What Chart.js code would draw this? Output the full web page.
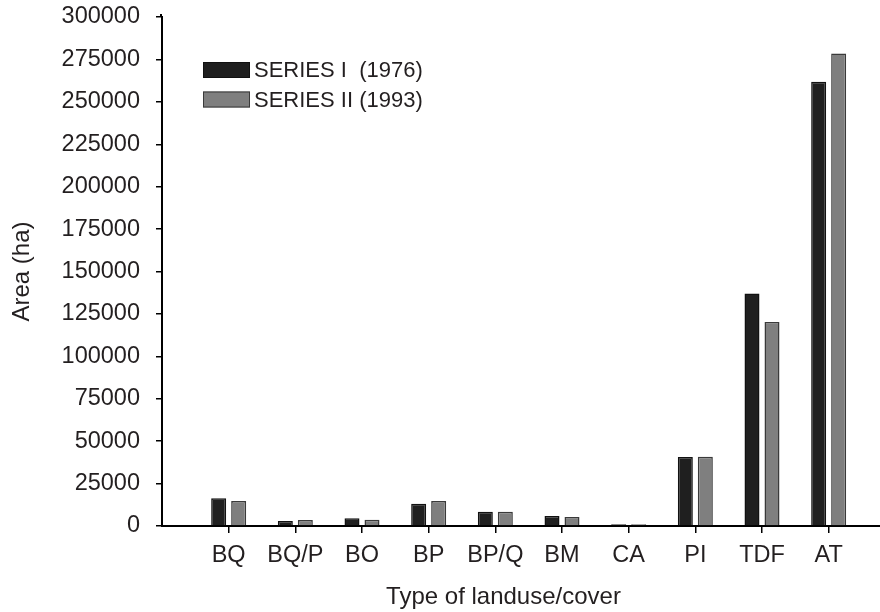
<!DOCTYPE html>
<html>
<head>
<meta charset="utf-8">
<script src="https://cdn.jsdelivr.net/npm/chart.js@4"></script>
<style>
html,body{margin:0;padding:0;background:#fff;overflow:hidden;width:880px;height:612px;}
#wrap{width:880px;height:612px;overflow:hidden;position:relative;}
canvas{display:block;}
</style>
</head>
<body>
<div id="wrap"><canvas id="c" width="900" height="612"></canvas></div>
<script>
const categories = ['BQ','BQ/P','BO','BP','BP/Q','BM','CA','PI','TDF','AT'];
const series1Label = 'SERIES I  (1976)';
const series2Label = 'SERIES II (1993)';
const series1 = [16300, 3000, 4500, 13100, 8400, 5900, 1000, 40600, 137000, 261800];
const series2 = [14700, 3500, 3700, 14700, 8400, 5300, 1000, 40800, 120300, 278500];
const yTicks = [0,25000,50000,75000,100000,125000,150000,175000,200000,225000,250000,275000,300000];
const xTitle = 'Type of landuse/cover';
const yTitle = 'Area (ha)';

const FONT = "'Liberation Sans', Arial, sans-serif";
const TXT = '#231f20';

// padded labels so the axis starts one category-step before the first category
const labels = [''].concat(categories, ['']);
const d1 = [null].concat(series1, [null]);
const d2 = [null].concat(series2, [null]);

const extrasPlugin = {
  id: 'extras',
  afterDraw(chart) {
    const ctx = chart.ctx;
    const x0 = 203, bw = 47, bh = 16;
    const rows = [70, 99.5];
    ctx.save();
    chart.data.datasets.forEach((ds, i) => {
      const cy = rows[i];
      ctx.fillStyle = ds.backgroundColor;
      ctx.fillRect(x0, cy - bh/2, bw, bh);
      ctx.lineWidth = 1;
      ctx.strokeStyle = ds.borderColor;
      ctx.strokeRect(x0 + 0.5, cy - bh/2 + 0.5, bw - 1, bh - 1);
      ctx.fillStyle = TXT;
      ctx.font = "22px " + FONT;
      ctx.textBaseline = 'middle';
      ctx.textAlign = 'left';
      ctx.fillText(ds.label, x0 + bw + 4, cy + 1);
    });
    // x axis title
    ctx.font = "24px " + FONT;
    ctx.textAlign = 'center';
    ctx.textBaseline = 'middle';
    ctx.fillText(xTitle, 503.5, 597);
    // slight extension of the y axis line above the top tick
    const ca = chart.chartArea;
    ctx.strokeStyle = '#000';
    ctx.lineWidth = 2;
    ctx.beginPath();
    ctx.moveTo(ca.left - 1, ca.top);
    ctx.lineTo(ca.left - 1, ca.top - 3);
    ctx.stroke();
    ctx.restore();
  }
};

new Chart(document.getElementById('c'), {
  type: 'bar',
  data: {
    labels: labels,
    datasets: [
      {label: series1Label, data: d1, backgroundColor: '#1f1f1f', borderColor: '#111111', borderWidth: 1.5,
       categoryPercentage: 0.6, barPercentage: 0.75},
      {label: series2Label, data: d2, backgroundColor: '#7f7f7f', borderColor: '#3a3a3a', borderWidth: 1.5,
       categoryPercentage: 0.6, barPercentage: 0.75}
    ]
  },
  options: {
    responsive: false,
    devicePixelRatio: 1,
    animation: false,
    layout: {padding: {top: 17, right: 4.67, left: 0, bottom: 0}},
    plugins: {legend: {display: false}, tooltip: {enabled: false}},
    scales: {
      x: {
        offset: false,
        border: {display: true, color: '#000', width: 2},
        grid: {offset: false, drawOnChartArea: false, drawTicks: true, tickLength: 7, lineWidth: 1.5,
               color: c => (c.index === 0 ? 'rgba(0,0,0,0)' : '#000')},
        ticks: {color: TXT, font: {family: FONT, size: 23.5}, padding: 8, maxRotation: 0, autoSkip: false},
        title: {display: false, text: xTitle},
        afterFit: s => { s.height = 86; s.paddingLeft = 0; s.paddingRight = 0; }
      },
      y: {
        min: 0, max: 300000,
        afterBuildTicks: s => { s.ticks = yTicks.map(v => ({value: v})); },
        border: {display: true, color: '#000', width: 2},
        grid: {drawOnChartArea: false, drawTicks: true, tickLength: 6, lineWidth: 1.5, color: '#000'},
        ticks: {color: TXT, font: {family: FONT, size: 23.5}, padding: 16, callback: v => String(v)},
        title: {display: true, text: yTitle, color: TXT, font: {family: FONT, size: 24}, padding: {top: 8, bottom: 0}},
        afterFit: s => { s.width = 162; s.paddingTop = 0; s.paddingBottom = 0; }
      }
    }
  },
  plugins: [extrasPlugin]
});
</script>
</body>
</html>
